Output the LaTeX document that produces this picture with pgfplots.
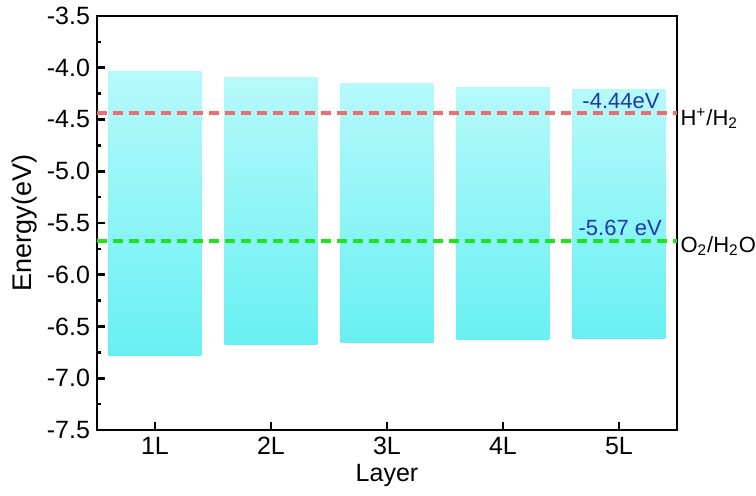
\documentclass[border=0pt]{standalone}
\usepackage{pgfplots}
\pgfplotsset{compat=1.18}
\usepackage{fontspec}
\setmainfont{Liberation Sans}
\definecolor{bartop}{RGB}{182,249,250}
\definecolor{barbot}{RGB}{104,240,242}
\definecolor{redline}{RGB}{236,110,110}
\definecolor{greenline}{RGB}{34,225,34}
\definecolor{bluetxt}{RGB}{28,58,172}
\begin{document}
\begin{tikzpicture}[font=\fontsize{12.5}{15}\selectfont]
\begin{axis}[
  scale only axis,
  width=290pt, height=207pt,
  xmin=0.5, xmax=5.5, ymin=-7.5, ymax=-3.5,
  xtick={1,2,3,4,5},
  xticklabels={1L,2L,3L,4L,5L},
  ytick={-7.5,-7,...,-3.5},
  minor ytick={-7.25,-6.75,...,-3.75},
  tick pos=lower,
  tick align=inside,
  tickwidth=4pt, subtickwidth=2pt,
  every major tick/.append style={black, line width=1.3pt},
  every minor tick/.append style={black, line width=1.3pt},
  axis line style={line width=1.4pt},
  yticklabel style={/pgf/number format/fixed, /pgf/number format/precision=1, /pgf/number format/fixed zerofill},
  /pgf/number format/assume math mode=true,
  xlabel={Layer}, ylabel={Energy(eV)},
  xlabel style={yshift=2pt},
  ylabel style={yshift=-2pt, font=\fontsize{13.5}{16}\selectfont},
  ticklabel style={font=\fontsize{12.5}{15}\selectfont},
]
% bands: x from centre-0.4 to centre+0.4, y from VBM (low) to CBM (high)
\addplot[draw=none, top color=bartop, bottom color=barbot] coordinates {(0.6,-6.78) (1.4,-6.78) (1.4,-4.04) (0.6,-4.04)} -- cycle;
\addplot[draw=none, top color=bartop, bottom color=barbot] coordinates {(1.6,-6.67) (2.4,-6.67) (2.4,-4.09) (1.6,-4.09)} -- cycle;
\addplot[draw=none, top color=bartop, bottom color=barbot] coordinates {(2.6,-6.65) (3.4,-6.65) (3.4,-4.15) (2.6,-4.15)} -- cycle;
\addplot[draw=none, top color=bartop, bottom color=barbot] coordinates {(3.6,-6.63) (4.4,-6.63) (4.4,-4.19) (3.6,-4.19)} -- cycle;
\addplot[draw=none, top color=bartop, bottom color=barbot] coordinates {(4.6,-6.62) (5.4,-6.62) (5.4,-4.21) (4.6,-4.21)} -- cycle;
\addplot[redline, line width=2pt, dash pattern=on 5pt off 3pt] coordinates {(0.5,-4.44) (5.5,-4.44)};
\addplot[greenline, line width=2pt, dash pattern=on 5pt off 3pt] coordinates {(0.5,-5.67) (5.5,-5.67)};
\end{axis}
% overlay axis: major tick marks as short line segments, plus annotations
\begin{axis}[
  scale only axis,
  width=290pt, height=207pt,
  xmin=0.5, xmax=5.5, ymin=-7.5, ymax=-3.5,
  axis line style={draw=none},
  xtick=\empty, ytick=\empty,
  clip=false,
]
\pgfplotsset{tk/.style={black, line width=1.3pt, mark=none, forget plot}}
% x ticks (length 4pt = 0.077 axis units)
\addplot[tk] coordinates {(1,-7.5) (1,-7.423)};
\addplot[tk] coordinates {(2,-7.5) (2,-7.423)};
\addplot[tk] coordinates {(3,-7.5) (3,-7.423)};
\addplot[tk] coordinates {(4,-7.5) (4,-7.423)};
\addplot[tk] coordinates {(5,-7.5) (5,-7.423)};
% y major ticks (length 4pt = 0.069 axis units)
\addplot[tk] coordinates {(0.5,-7.0) (0.569,-7.0)};
\addplot[tk] coordinates {(0.5,-6.5) (0.569,-6.5)};
\addplot[tk] coordinates {(0.5,-6.0) (0.569,-6.0)};
\addplot[tk] coordinates {(0.5,-5.5) (0.569,-5.5)};
\addplot[tk] coordinates {(0.5,-5.0) (0.569,-5.0)};
\addplot[tk] coordinates {(0.5,-4.5) (0.569,-4.5)};
\addplot[tk] coordinates {(0.5,-4.0) (0.569,-4.0)};
\node[anchor=south east, text=bluetxt, inner sep=1pt, font=\fontsize{11}{13}\selectfont] at (axis cs:5.37,-4.42) {-4.44eV};
\node[anchor=south east, text=bluetxt, inner sep=1pt, font=\fontsize{11}{13}\selectfont] at (axis cs:5.39,-5.65) {-5.67 eV};
\node[anchor=west, inner sep=1pt, font=\fontsize{11}{13}\selectfont] at (axis cs:5.51,-4.49) {H\textsuperscript{+}/H\textsubscript{2}};
\node[anchor=west, inner sep=1pt, font=\fontsize{11}{13}\selectfont] at (axis cs:5.51,-5.72) {O\textsubscript{2}/H\textsubscript{2}O};
\end{axis}
\pgfresetboundingbox
\useasboundingbox (-48.5pt,-33pt) rectangle (329.5pt,215pt);
\end{tikzpicture}
\end{document}
